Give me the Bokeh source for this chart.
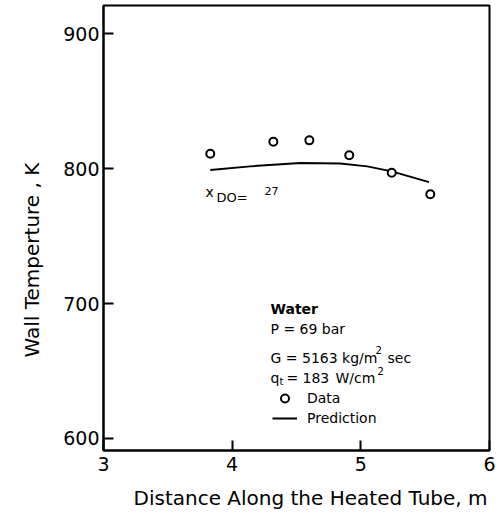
import math
from bokeh.plotting import figure
from bokeh.models import Label, Legend, LegendItem, ColumnDataSource, Range1d, Title
from bokeh.embed import file_html
from bokeh.resources import INLINE

# ---- data ----
data_x = [3.83, 4.32, 4.60, 4.91, 5.24, 5.54]
data_y = [811, 820, 821, 810, 797, 781]
pred_x = [3.83, 4.14, 4.53, 4.84, 5.05, 5.24, 5.53]
pred_y = [799, 801.7, 804.2, 803.9, 801.7, 798, 790]
x_ticks = [3, 4, 5, 6]
y_ticks = [600, 700, 800, 900]

FONT = "DejaVu Sans"
FL, FR, FT, FB = 103, 489, 5, 450
X0, X1, Y0, Y1 = 3, 6, 591, 921
W, H = 502, 521


def dx(px):
    return X0 + (px - FL) * (X1 - X0) / (FR - FL)


def dy(py):
    return Y0 + (FB - py) * (Y1 - Y0) / (FB - FT)


p = figure(width=W, height=H, output_backend="svg", toolbar_location=None,
           x_range=Range1d(X0, X1), y_range=Range1d(Y0, Y1),
           min_border_left=FL, min_border_right=W - FR,
           min_border_top=FT, min_border_bottom=H - FB)
p.background_fill_color = "white"
p.border_fill_color = "white"
p.outline_line_color = "black"
p.outline_line_width = 2
p.xgrid.visible = False
p.ygrid.visible = False

for ax in (p.xaxis, p.yaxis):
    ax.axis_line_width = 2
    ax.axis_line_color = "black"
    ax.major_tick_in = 10
    ax.major_tick_out = 0
    ax.major_tick_line_width = 2
    ax.minor_tick_line_color = None
    ax.major_label_text_font = FONT
    ax.major_label_text_font_size = "19px"
    ax.major_label_text_color = "black"
p.xaxis.ticker = x_ticks
p.yaxis.ticker = y_ticks
p.xaxis.major_label_standoff = 6
p.yaxis.major_label_standoff = 4

# axis titles (as side-panel titles so they can be offset like the reference)
xt = Title(text="Distance Along the Heated Tube, m", align="left", offset=30,
           standoff=20, text_font=FONT, text_font_size="20px",
           text_font_style="normal", text_color="black")
p.add_layout(xt, "below")
yt = Title(text="Wall Temperture , K", align="left", offset=93,
           standoff=33, text_font=FONT, text_font_size="20px",
           text_font_style="normal", text_color="black")
p.add_layout(yt, "left")

src_d = ColumnDataSource(dict(x=data_x, y=data_y))
src_p = ColumnDataSource(dict(x=pred_x, y=pred_y))
ln = p.line("x", "y", source=src_p, line_color="black", line_width=2)
sc = p.scatter("x", "y", source=src_d, marker="circle", size=8,
               fill_color="white", line_color="black", line_width=2)


def lab(text, px, py, size, bold=False, align="left", baseline="alphabetic"):
    p.add_layout(Label(x=dx(px), y=dy(py), text=text, text_font=FONT,
                       text_font_size=f"{size}px", text_color="black",
                       text_font_style="bold" if bold else "normal",
                       text_align=align, text_baseline=baseline))


# x_DO annotation
lab("x", 205, 191, 14)
lab("DO=", 216, 197, 13)
lab("27", 264, 190, 11)

# legend block text
lab("Water", 270, 308, 14, bold=True)
lab("P = 69 bar", 270, 328, 14)
lab("G = 5163 kg/m", 270, 357, 14)
lab("2", 375, 349, 10)
lab("sec", 387, 357, 14)
lab("q", 270, 377, 14)
lab("t", 279, 381, 10)
lab("=", 286, 377, 14)
lab("183", 302, 377, 14)
lab("W/cm", 335, 377, 14)
lab("2", 377, 370, 10)

legend = Legend(items=[LegendItem(label="Data", renderers=[sc]),
                       LegendItem(label="Prediction", renderers=[ln])],
                location=(169, 22), glyph_width=25, glyph_height=20,
                label_height=20, label_standoff=10, padding=0, spacing=0,
                margin=0, border_line_alpha=0, background_fill_alpha=0,
                label_text_font=FONT, label_text_font_size="14px",
                label_text_color="black")
p.add_layout(legend)

open("out.html", "w").write(file_html(p, INLINE))
